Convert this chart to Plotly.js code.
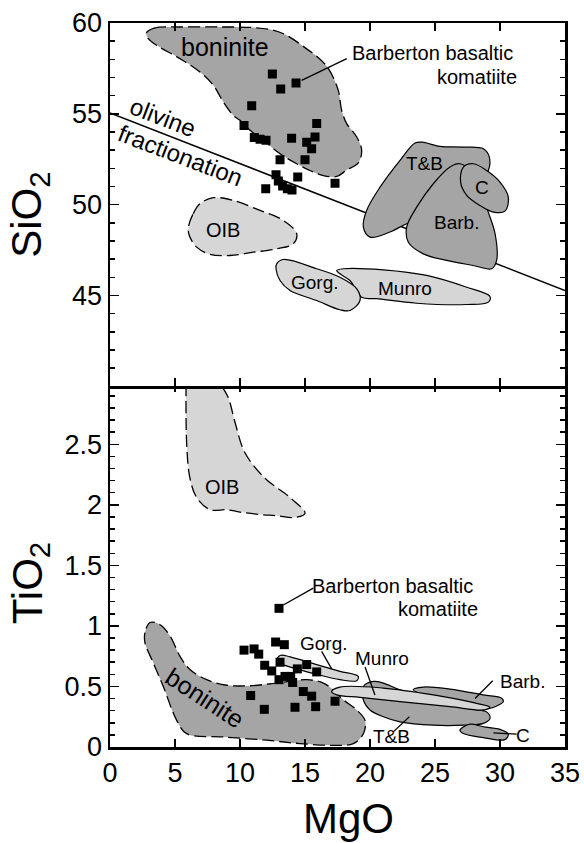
<!DOCTYPE html>
<html>
<head>
<meta charset="utf-8">
<script src="https://cdn.plot.ly/plotly-3.0.1.min.js"></script>
<style>html,body{margin:0;padding:0;background:#fff;}#chart{width:584px;height:843px;}</style>
</head>
<body>
<div id="chart"></div>
<script>
// ---------- tick values ----------
var mgoTicks = [0, 5, 10, 15, 20, 25, 30, 35];
var sio2Ticks = [45, 50, 55, 60];
var tio2Ticks = [0, 0.5, 1, 1.5, 2, 2.5];

// ---------- Barberton basaltic komatiite samples ----------
var mgoSi = [12.49, 14.31, 13.13, 10.9, 10.31, 15.9, 11.1, 11.54, 12.0, 13.97, 15.77, 15.13, 15.51, 13.08, 15.0, 14.44, 12.77, 17.31, 11.98, 12.95, 13.28, 13.64, 14.0];
var sio2 = [57.19, 56.69, 56.36, 55.45, 54.35, 54.46, 53.69, 53.6, 53.55, 53.66, 53.72, 53.44, 53.08, 52.47, 52.47, 51.52, 51.65, 51.18, 50.88, 51.3, 51.02, 50.88, 50.8];

var mgoTi = [13.0, 12.74, 13.41, 10.31, 11.08, 11.44, 11.9, 13.08, 12.44, 14.41, 15.13, 15.9, 13.0, 13.46, 13.9, 14.05, 14.87, 15.51, 10.82, 17.31, 11.87, 14.23, 15.82];
var tio2 = [1.145, 0.867, 0.845, 0.80, 0.81, 0.767, 0.675, 0.70, 0.628, 0.645, 0.681, 0.62, 0.556, 0.583, 0.583, 0.533, 0.458, 0.42, 0.425, 0.378, 0.311, 0.328, 0.333];

// ---------- olivine fractionation line ----------
var olivMgO = [0, 35];
var olivSiO2 = [55.05, 45.27];

// ---------- fields, SiO2 panel ----------
var bonSiX = [2.8, 3.4, 5.5, 8.5, 11.0, 12.6, 13.6, 15.1, 16.0, 16.8, 17.56, 17.82, 18.21, 18.98, 19.36, 19.1, 18.2, 17.44, 16.41, 15.38, 14.36, 13.08, 11.79, 10.77, 10.0, 9.49, 8.72, 7.95, 6.92, 5.38, 3.59, 2.95, 2.8];
var bonSiY = [59.45, 59.72, 59.78, 59.78, 59.75, 59.6, 59.32, 58.59, 58.1, 57.49, 56.29, 55.19, 54.46, 53.72, 52.99, 52.3, 51.9, 51.55, 51.6, 51.88, 52.25, 52.8, 53.54, 54.09, 54.64, 54.91, 55.65, 56.57, 57.3, 58.04, 58.77, 59.14, 59.45];
var oibSiX = [6.03, 6.4, 6.92, 7.95, 9.49, 11.54, 13.33, 14.36, 14.1, 12.82, 11.03, 9.23, 7.69, 6.67, 6.1, 6.03];
var oibSiY = [48.76, 49.5, 50.05, 50.38, 50.23, 49.68, 49.13, 48.4, 47.85, 47.57, 47.38, 47.2, 47.26, 47.66, 48.3, 48.76];
var gorgSiX = [12.82, 13.33, 15.9, 17.69, 18.97, 19.23, 18.46, 17.69, 15.9, 13.85, 13.08, 12.77, 12.82];
var gorgSiY = [46.74, 46.98, 46.47, 46.0, 45.37, 44.72, 44.17, 44.21, 44.72, 45.27, 45.82, 46.47, 46.74];
var munroSiX = [17.44, 17.95, 21.03, 24.36, 27.44, 29.23, 29.1, 27.44, 23.59, 20.51, 19.36, 18.46, 17.69, 17.44];
var munroSiY = [46.37, 46.47, 46.41, 46.1, 45.45, 44.94, 44.63, 44.5, 44.57, 44.82, 44.9, 45.82, 46.19, 46.37];
var tbSiX = [23.46, 24.0, 25.38, 27.18, 28.72, 29.18, 29.1, 28.0, 26.0, 24.0, 22.82, 21.54, 20.0, 19.49, 19.74, 20.77, 22.31, 23.46];
var tbSiY = [53.39, 53.44, 53.21, 53.17, 53.08, 52.62, 51.88, 50.8, 49.8, 49.2, 48.95, 48.49, 48.21, 48.76, 49.68, 50.96, 52.44, 53.39];
var barbSiX = [26.92, 26.15, 24.87, 23.59, 22.82, 22.95, 24.1, 25.9, 27.95, 29.36, 29.74, 29.62, 29.1, 28.72, 27.95, 26.92];
var barbSiY = [52.25, 52.07, 51.15, 49.86, 48.76, 47.93, 47.29, 46.93, 46.65, 46.47, 46.93, 48.4, 49.59, 50.41, 51.7, 52.25];
var cSiX = [27.18, 27.95, 28.97, 30.0, 30.64, 30.38, 29.49, 28.46, 27.44, 26.97, 27.18];
var cSiY = [52.07, 52.25, 51.88, 51.24, 50.41, 49.64, 49.59, 49.95, 50.51, 51.24, 52.07];

// ---------- fields, TiO2 panel ----------
var bonTiX = [3.08, 2.69, 2.69, 3.33, 4.1, 5.13, 5.9, 8.72, 12.05, 14.62, 17.18, 18.72, 19.49, 19.62, 18.98, 17.95, 17.18, 16.41, 15.13, 12.82, 10.77, 8.98, 7.44, 6.15, 5.38, 4.62, 3.85, 3.08];
var bonTiY = [1.028, 0.945, 0.86, 0.695, 0.5, 0.22, 0.11, 0.083, 0.056, 0.028, 0.014, 0.028, 0.11, 0.22, 0.305, 0.39, 0.47, 0.528, 0.556, 0.528, 0.506, 0.51, 0.556, 0.64, 0.75, 0.917, 1.01, 1.028];
var oibTiX = [5.85, 5.9, 6.15, 6.67, 7.69, 8.98, 10.0, 11.54, 12.87, 14.15, 15.0, 13.85, 11.92, 10.38, 9.62, 9.08, 8.46];
var oibTiY = [3.0, 2.5, 2.22, 2.06, 1.96, 1.96, 1.94, 1.92, 1.91, 1.895, 1.93, 2.06, 2.22, 2.43, 2.68, 2.89, 3.0];
var gorgTiX = [13.08, 13.85, 15.9, 17.69, 19.1, 18.98, 17.69, 15.9, 14.1, 12.82, 13.08];
var gorgTiY = [0.756, 0.745, 0.68, 0.625, 0.583, 0.548, 0.556, 0.6, 0.653, 0.708, 0.756];
var munroTiX = [17.05, 17.69, 21.03, 24.87, 28.21, 29.23, 28.72, 26.15, 22.31, 19.23, 17.44, 17.05];
var munroTiY = [0.458, 0.495, 0.487, 0.43, 0.36, 0.328, 0.306, 0.333, 0.375, 0.41, 0.43, 0.458];
var tbTiX = [19.49, 20.26, 21.03, 22.31, 24.0, 26.0, 27.44, 28.97, 29.23, 28.72, 27.18, 24.87, 22.31, 21.03, 20.0, 19.49, 19.49];
var tbTiY = [0.5, 0.542, 0.528, 0.472, 0.43, 0.38, 0.32, 0.29, 0.236, 0.195, 0.18, 0.18, 0.208, 0.25, 0.306, 0.39, 0.5];
var barbTiX = [23.33, 24.1, 26.15, 28.72, 30.13, 30.26, 29.74, 29.23, 26.0, 23.33];
var barbTiY = [0.472, 0.495, 0.478, 0.43, 0.403, 0.375, 0.339, 0.32, 0.38, 0.472];
var cTiX = [26.92, 27.69, 28.72, 30.0, 30.64, 30.38, 28.72, 27.18, 26.92];
var cTiY = [0.139, 0.189, 0.167, 0.145, 0.106, 0.061, 0.078, 0.111, 0.139];

// ---------- leader lines ----------
var leadBarbSiX = [18.21, 14.74], leadBarbSiY = [58.04, 56.84];
var leadBarbTiX = [15.64, 13.33], leadBarbTiY = [1.312, 1.173];
var leadGorgTiX = [16.28, 17.05], leadGorgTiY = [0.79, 0.645];
var leadMunroTiX = [19.62, 20.38], leadMunroTiY = [0.66, 0.43];
var leadBarbFTiX = [29.44, 28.08], leadBarbFTiY = [0.547, 0.4];
var leadTBTiX = [21.79, 23.03], leadTBTiY = [0.125, 0.25];
var leadCTiX = [31.28, 29.49], leadCTiY = [0.106, 0.117];

var DARK = '#a5a5a5', LIGHT = '#d6d6d6';
var FONT = 'Liberation Sans, Arial, Helvetica, sans-serif';

function field(x, y, color, dashed, xa, ya) {
  return {x: x, y: y, xaxis: xa, yaxis: ya, type: 'scatter', mode: 'lines', fill: 'toself',
    fillcolor: color, hoverinfo: 'skip', showlegend: false,
    line: {color: '#000', width: dashed ? 1.3 : 1.2, dash: dashed ? '12px,5px' : 'solid', shape: 'spline', smoothing: 1}};
}
function lead(x, y, xa, ya) {
  return {x: x, y: y, xaxis: xa, yaxis: ya, type: 'scatter', mode: 'lines', hoverinfo: 'skip',
    showlegend: false, line: {color: '#000', width: 1.3}};
}

var traces = [
  // top panel (SiO2)
  {x: olivMgO, y: olivSiO2, xaxis: 'x2', yaxis: 'y2', type: 'scatter', mode: 'lines', showlegend: false, line: {color: '#000', width: 1.5}},
  field(bonSiX, bonSiY, DARK, true, 'x2', 'y2'),
  field(oibSiX, oibSiY, LIGHT, true, 'x2', 'y2'),
  field(tbSiX, tbSiY, DARK, false, 'x2', 'y2'),
  field(barbSiX, barbSiY, DARK, false, 'x2', 'y2'),
  field(cSiX, cSiY, DARK, false, 'x2', 'y2'),
  field(munroSiX, munroSiY, LIGHT, false, 'x2', 'y2'),
  field(gorgSiX, gorgSiY, LIGHT, false, 'x2', 'y2'),
  lead(leadBarbSiX, leadBarbSiY, 'x2', 'y2'),
  {x: mgoSi, y: sio2, xaxis: 'x2', yaxis: 'y2', type: 'scatter', mode: 'markers', showlegend: false,
   marker: {symbol: 'square', size: 9, color: '#000'}},
  // bottom panel (TiO2)
  field(bonTiX, bonTiY, DARK, true, 'x', 'y'),
  field(oibTiX, oibTiY, LIGHT, true, 'x', 'y'),
  field(tbTiX, tbTiY, DARK, false, 'x', 'y'),
  field(barbTiX, barbTiY, DARK, false, 'x', 'y'),
  field(cTiX, cTiY, DARK, false, 'x', 'y'),
  field(munroTiX, munroTiY, LIGHT, false, 'x', 'y'),
  field(gorgTiX, gorgTiY, LIGHT, false, 'x', 'y'),
  lead(leadBarbTiX, leadBarbTiY, 'x', 'y'),
  lead(leadGorgTiX, leadGorgTiY, 'x', 'y'),
  lead(leadMunroTiX, leadMunroTiY, 'x', 'y'),
  lead(leadBarbFTiX, leadBarbFTiY, 'x', 'y'),
  lead(leadTBTiX, leadTBTiY, 'x', 'y'),
  lead(leadCTiX, leadCTiY, 'x', 'y'),
  {x: mgoTi, y: tio2, xaxis: 'x', yaxis: 'y', type: 'scatter', mode: 'markers', showlegend: false,
   marker: {symbol: 'square', size: 9, color: '#000'}}
];

function ann(text, xa, ya, x, y, size, opts) {
  var a = {text: text, xref: xa, yref: ya, x: x, y: y, showarrow: false,
    font: {family: FONT, size: size, color: '#000'}, xanchor: 'center', yanchor: 'middle'};
  if (opts) for (var k in opts) a[k] = opts[k];
  return a;
}

var LW = 2.5;
var axCommon = {
  showgrid: false, zeroline: false, showline: true, linecolor: '#000', linewidth: LW,
  mirror: 'ticks', ticks: 'inside', tickcolor: '#000', tickwidth: 1.5,
  tickfont: {family: FONT, size: 27, color: '#000'}
};
function ax(extra) { var o = JSON.parse(JSON.stringify(axCommon)); for (var k in extra) o[k] = extra[k]; return o; }

// overlap the two panels by one line width so the shared border is a single line
var ov = LW / 724 / 2;

var layout = {
  width: 584, height: 843,
  margin: {l: 110, r: 19, t: 23, b: 96, pad: 0},
  paper_bgcolor: '#fff', plot_bgcolor: '#fff',
  font: {family: FONT, color: '#000'},
  showlegend: false,
  xaxis: ax({anchor: 'y', range: [0, 35], tickmode: 'array', tickvals: mgoTicks, ticklen: 8}),
  yaxis: ax({anchor: 'x', domain: [0, 0.5 + ov], range: [0, 3], tickmode: 'array', tickvals: tio2Ticks, ticklen: 9,
    minor: {tickmode: 'linear', tick0: 0, dtick: 0.1, ticks: 'inside', ticklen: 5, tickcolor: '#000', tickwidth: 1.5}}),
  xaxis2: ax({anchor: 'y2', matches: 'x', range: [0, 35], tickmode: 'array', tickvals: mgoTicks, ticklen: 8, showticklabels: false}),
  yaxis2: ax({anchor: 'x2', domain: [0.5 - ov, 1], range: [40, 60], tickmode: 'array', tickvals: sio2Ticks, ticklen: 9,
    minor: {tickmode: 'linear', tick0: 0, dtick: 1, ticks: 'inside', ticklen: 5, tickcolor: '#000', tickwidth: 1.5}}),
  annotations: [
    // axis titles
    ann('SiO<sub>2</sub>', 'paper', 'paper', -0.176, 0.735, 42, {textangle: -90}),
    ann('TiO<sub>2</sub>', 'paper', 'paper', -0.176, 0.226, 42, {textangle: -90}),
    ann('MgO', 'paper', 'paper', 0.525, -0.099, 42),
    // field labels, SiO2 panel
    ann('boninite', 'x2', 'y2', 8.85, 58.68, 25),
    ann('olivine', 'x2', 'y2', 4.1, 54.82, 24, {textangle: 21}),
    ann('fractionation', 'x2', 'y2', 5.44, 52.71, 24, {textangle: 21}),
    ann('Barberton basaltic', 'x2', 'y2', 31.15, 58.33, 20, {xanchor: 'right'}),
    ann('komatiite', 'x2', 'y2', 31.46, 57.0, 20, {xanchor: 'right'}),
    ann('OIB', 'x2', 'y2', 8.72, 48.62, 20),
    ann('T&B', 'x2', 'y2', 24.23, 52.25, 19),
    ann('C', 'x2', 'y2', 28.59, 50.96, 19),
    ann('Barb.', 'x2', 'y2', 26.67, 49.04, 19),
    ann('Munro', 'x2', 'y2', 22.69, 45.37, 19),
    ann('Gorg.', 'x2', 'y2', 15.77, 45.73, 19),
    // field labels, TiO2 panel
    ann('OIB', 'x', 'y', 8.59, 2.145, 20),
    ann('boninite', 'x', 'y', 7.31, 0.403, 25, {textangle: 33}),
    ann('Barberton basaltic', 'x', 'y', 28.08, 1.333, 20, {xanchor: 'right'}),
    ann('komatiite', 'x', 'y', 28.46, 1.139, 20, {xanchor: 'right'}),
    ann('Gorg.', 'x', 'y', 16.46, 0.853, 19),
    ann('Munro', 'x', 'y', 20.9, 0.73, 19),
    ann('Barb.', 'x', 'y', 31.74, 0.54, 19),
    ann('T&B', 'x', 'y', 21.67, 0.089, 19),
    ann('C', 'x', 'y', 31.74, 0.092, 19)
  ]
};

Plotly.newPlot('chart', traces, layout, {displayModeBar: false, staticPlot: true});
</script>
</body>
</html>
